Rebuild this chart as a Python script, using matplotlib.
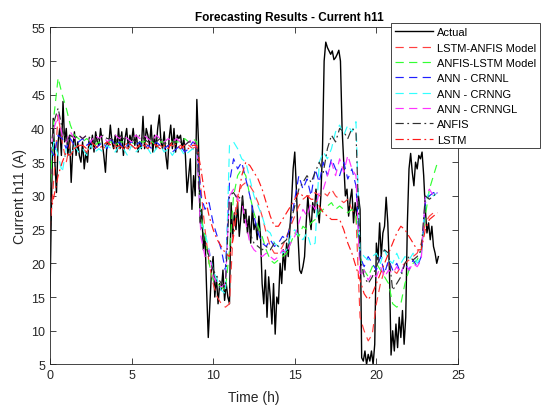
import numpy as np
import matplotlib
matplotlib.use("Agg")
import matplotlib.pyplot as plt

# measured current, one value every 0.1 h
actual = [
    15, 30, 41.5, 35, 30.5, 38, 40, 36, 44, 38,
    40, 36, 39, 32, 37, 39.5, 36, 38, 36, 35,
    38, 34, 36.5, 35, 38.5, 37, 39, 36.5, 39.5, 38,
    37.5, 40, 38, 36, 33.5, 38, 37.5, 40.5, 38, 37,
    39, 36.5, 40, 37, 39.5, 36, 38.5, 40, 37, 39,
    38, 40, 37.5, 39, 36.5, 38, 37, 41.8, 37, 40,
    39, 37.5, 40.5, 36.5, 39, 37, 40, 42, 38, 37,
    39.5, 36, 34, 38.5, 40.5, 37, 40, 36.5, 39, 38.5,
    39, 37, 38.5, 36, 30.5, 33, 35.5, 28, 33, 30,
    44.3, 38, 26, 28, 22, 24, 16, 9, 14, 19,
    21, 15, 18, 14, 17, 16, 19, 14.5, 17, 15,
    14, 29, 24, 27.5, 25, 29, 24, 27, 30, 26,
    28, 24.5, 27, 23, 28.5, 25, 26, 23.5, 27, 24,
    17, 14, 19, 12, 18, 15, 11, 17, 9.5, 15,
    14, 20, 17, 22, 19, 23, 21, 25, 29, 34,
    36.5, 31, 24, 19, 18.5, 19.5, 21, 26, 30, 27,
    25, 29, 27.5, 31, 28, 26, 30, 37, 50, 52.8,
    52, 51.5, 51, 51.5, 50.2, 50.5, 51, 51.6, 50, 40,
    35, 30, 31, 27, 29.5, 31, 26, 29, 27, 30,
    28, 6, 5.5, 7, 5, 6.5, 5.5, 7, 5, 8,
    23, 20.5, 26, 21, 24.5, 25.5, 29.8, 26, 19, 6.4,
    10, 7, 11, 7.5, 12, 9, 13, 8, 12, 26,
    34, 36.3, 33.5, 31.5, 35, 34, 36, 35.5, 36.5, 33,
    28, 24.5, 26, 23.5, 25.5, 22.5, 21.5, 20, 21,
]

# model forecasts, one value every 0.25 h
lstm_anfis = [
    25, 33, 42, 38, 35, 38, 37, 37.5, 37, 36.5, 37.5, 37, 37.5, 37, 37.5, 38,
    37.5, 37, 37.5, 37, 37.5, 37, 37.5, 38, 37.5, 37, 37.5, 37.5, 37, 37.5, 37.5, 37,
    37.5, 37, 37.5, 37, 37.5, 31, 25, 20, 17, 15, 14, 13.5, 14, 26, 30, 31.5,
    32, 31.5, 30.5, 29, 27, 24.5, 22.5, 21.5, 21.5, 22.5, 24, 25.5, 27, 28.5, 29.5, 30,
    30, 30.5, 30, 30.5, 30, 31, 30, 29.5, 29, 29.5, 28, 27, 12, 10, 8.5, 9.5,
    14, 17, 19, 20, 19, 18.5, 19.5, 20, 20.5, 21, 21.5, 23, 26, 27, 27.5, 27.5,
]
anfis_lstm = [
    30, 42, 47.5, 45, 43, 40.5, 39, 38.5, 38, 38.5, 38, 37.5, 38, 37.5, 38, 38,
    37.5, 38, 38, 37.5, 38, 37.5, 38, 38, 38.5, 38, 37.5, 38, 38, 38.5, 38, 38,
    38, 38.5, 38, 38.5, 38, 27, 24, 20, 17.5, 17, 16.5, 16, 22, 30, 33, 34,
    33, 30, 27.5, 25.5, 24, 22, 20.5, 20, 20.5, 21, 21.5, 23, 24.5, 24, 25.5, 25,
    26, 26.5, 27.5, 28, 28.5, 29, 28, 28.5, 28, 27.5, 28, 27, 21, 19, 18, 19.5,
    20, 19, 18, 17, 14, 13.5, 14, 17, 19, 20, 20.5, 22, 27, 31, 33, 35,
]
ann_crnnl = [
    37, 36, 39, 38.5, 37, 38.5, 37.5, 38, 38.5, 37.5, 38, 37, 37.5, 38, 37, 38.5,
    37.5, 38, 37, 37.5, 38, 37.5, 38, 37, 37.5, 37, 38, 37.5, 37, 37.5, 36.5, 37,
    37.5, 36.5, 37, 38, 37.5, 30, 28, 29, 26, 24, 22, 19, 32, 35.5, 34, 35,
    32.5, 30, 27, 24.5, 23, 22.5, 23.5, 22.5, 23, 24, 23.5, 26, 29.5, 33, 31, 32.5,
    30, 34, 32, 35, 33, 35.5, 34, 33, 35, 32.5, 34, 31.5, 21, 19.5, 21, 20,
    19, 21, 18.5, 20.5, 19, 20, 18.5, 20, 19, 20.5, 19.5, 21, 29, 30, 30.5, 30,
]
ann_crnng = [
    35, 38, 36, 33.5, 37, 36, 37.5, 36.5, 37, 36, 37.5, 36.5, 37, 36.5, 37.5, 37,
    36.5, 37.5, 37, 36, 37.5, 36.5, 37, 37.5, 37, 36, 37, 37.5, 36.5, 37, 36, 37,
    37, 36, 36.5, 37, 36, 26, 24.5, 22, 19, 17.5, 16, 15.5, 37.5, 38, 37, 35.5,
    35, 32.5, 30, 28.5, 27, 25, 24.5, 23, 22.5, 21.5, 22, 24, 25, 24, 23.5, 24.5,
    22.5, 23, 35, 36.5, 35.5, 37, 39.5, 40.5, 39, 40.5, 39.5, 41, 22, 21, 20.5, 21,
    21.5, 20, 22, 20.5, 20, 21.5, 20, 21, 20.5, 21.5, 20, 21, 29.5, 30.5, 30, 30.5,
]
ann_crnngl = [
    36, 40, 42, 39, 38, 39.5, 38.5, 39, 38.5, 39, 38, 39, 38.5, 39, 38, 38.5,
    39, 38.5, 39, 38.5, 38, 39, 38.5, 39, 38.5, 38, 39, 38.5, 38, 38.5, 38, 38.5,
    38, 37.5, 38, 38.5, 37, 24, 21, 22, 18, 17, 16.5, 17, 30, 31, 29.5, 29,
    26, 23, 22, 21.5, 21, 21.5, 21, 20.5, 21, 22, 21.5, 23, 24, 26, 28, 27,
    29, 28, 30.5, 31, 33, 35, 33, 35.5, 33.5, 36, 34, 33, 18, 19, 17.5, 18.5,
    18, 19.5, 18, 19, 18.5, 19.5, 18.5, 20, 19, 20, 19.5, 20.5, 30, 31, 30, 30.5,
]
anfis = [
    36, 41, 43, 40, 38, 39, 38.5, 39, 38.5, 39, 38.5, 38, 38.5, 39, 38.5, 38.5,
    38, 39, 38.5, 38, 38.5, 38, 39, 38.5, 38, 38.5, 38, 38.5, 38, 37.5, 38, 38,
    38, 37.5, 38, 38, 37.5, 26, 23, 21, 19, 18, 17, 16.5, 30, 30.5, 29.5, 30,
    27, 24.5, 23, 22.5, 22, 22.5, 22, 23, 22.5, 23, 23.5, 26, 28.5, 31, 32, 33,
    32, 33.5, 35, 33.5, 37, 39, 38, 40, 39.5, 38.5, 40, 39.5, 21, 18, 17, 18,
    19.5, 21, 22, 21.5, 16, 17, 18, 20, 21, 20.5, 21, 22, 30, 29.5, 30, 30.5,
]
lstm = [
    27, 30, 33, 35, 36.5, 36, 37, 37.5, 37.5, 37, 38, 37.5, 37, 37.5, 38, 37.5,
    37, 37.5, 37, 38, 37.5, 37, 37.5, 37.5, 37, 38, 37.5, 37, 37.5, 37, 38, 37.5,
    37, 37.5, 37, 37.5, 37.5, 34, 30, 27, 25, 23.5, 22.5, 21.5, 21, 24, 29, 33,
    35, 34.5, 33.5, 32.5, 31, 29, 27, 25.5, 25.5, 26.5, 27.5, 28.5, 29.5, 30.5, 30, 30,
    29.5, 29.5, 28.5, 27.5, 27, 26.5, 26.5, 26.5, 25, 23, 21.5, 19.5, 17.5, 15.5, 14.6, 15.5,
    17, 18.5, 20, 21.5, 23, 24.5, 25.5, 25, 24, 23, 22, 22, 25, 26.5, 27, 27.5,
]

t_actual = np.arange(len(actual)) * 0.1
t_model = np.arange(len(lstm)) * 0.25

plt.rcParams['font.family'] = ['Liberation Sans', 'DejaVu Sans']
txt = '#262626'

fig = plt.figure(figsize=(5.43, 4.06), dpi=100)
ax = fig.add_axes([0.092, 0.0998, 0.7514, 0.8305])

dash = (0, (7, 4.5))
dashdot = (0, (7, 3, 1.5, 3))
lw = 0.85

ax.plot(t_actual, actual, color='black', lw=1.0, label='Actual')
ax.plot(t_model, lstm_anfis, color='#ff4040', lw=lw, ls=dash, label='LSTM-ANFIS Model')
ax.plot(t_model, anfis_lstm, color='#33ff33', lw=lw, ls=dash, label='ANFIS-LSTM Model')
ax.plot(t_model, ann_crnnl, color='#2020ff', lw=lw, ls=dash, label='ANN - CRNNL')
ax.plot(t_model, ann_crnng, color='#33ffff', lw=lw, ls=dash, label='ANN - CRNNG')
ax.plot(t_model, ann_crnngl, color='#ff33ff', lw=lw, ls=dash, label='ANN - CRNNGL')
ax.plot(t_model, anfis, color='#303030', lw=lw, ls=dashdot, label='ANFIS')
ax.plot(t_model, lstm, color='#ff1a1a', lw=lw, ls=dashdot, label='LSTM')

ax.set_xlim(0, 25)
ax.set_ylim(5, 55)
ax.set_xticks(np.arange(0, 26, 5))
ax.set_yticks(np.arange(5, 56, 5))
ax.tick_params(direction='in', length=4, width=0.6, top=True, right=True,
               labelsize=9, colors=txt, labelcolor=txt)
for s in ax.spines.values():
    s.set_linewidth(0.6)
    s.set_color(txt)

ax.set_title('Forecasting Results - Current h11', fontsize=8.5,
             fontweight='bold', color='black', pad=5, x=0.586)
ax.set_xlabel('Time (h)', fontsize=10, color=txt, labelpad=6)
ax.set_ylabel('Current h11 (A)', fontsize=10, color=txt, labelpad=3)

leg = ax.legend(loc='upper right', bbox_to_anchor=(0.995, 0.94),
                bbox_transform=fig.transFigure, fontsize=8, frameon=True,
                fancybox=False, framealpha=1, edgecolor=txt,
                handlelength=3.4, handletextpad=0.4, labelspacing=0.48,
                borderpad=0.35, borderaxespad=0)
leg.get_frame().set_linewidth(0.6)
for t in leg.get_texts():
    t.set_color('black')

fig.savefig('out.png', dpi=100)
